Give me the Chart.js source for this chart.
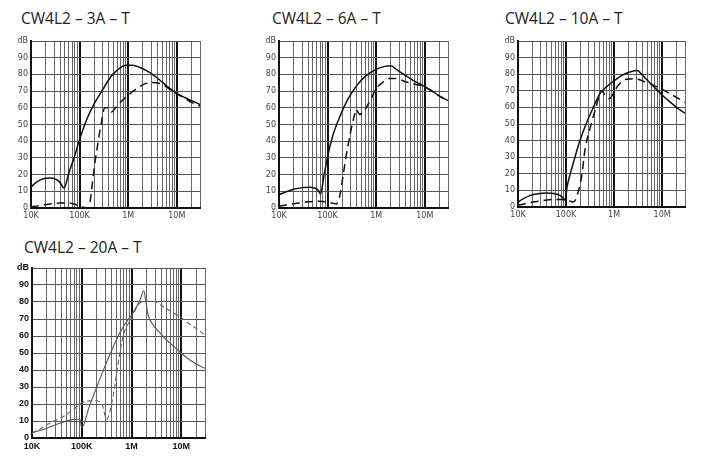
<!DOCTYPE html>
<html lang="en">
<head>
<meta charset="UTF-8">
<title>CW4L2 insertion loss</title>
<script src="https://cdn.jsdelivr.net/npm/chart.js@4/dist/chart.umd.min.js"></script>
<style>
    body { margin: 0; background: #fff; width: 726px; height: 463px; position: relative; overflow: hidden; }
    .title { position: absolute; font-family: "Open Sans"; font-size: 15.5px; line-height: 15.5px; color: #222; white-space: nowrap; }
    canvas { position: absolute; }
</style>
</head>
<body>
<div class="title" style="left:21px;top:11px">CW4L2 – 3A – T</div>
<div class="title" style="left:272px;top:11px">CW4L2 – 6A – T</div>
<div class="title" style="left:505px;top:11px">CW4L2 – 10A – T</div>
<div class="title" style="left:24px;top:240px">CW4L2 – 20A – T</div>
<canvas id="c3A"></canvas>
<canvas id="c6A"></canvas>
<canvas id="c10A"></canvas>
<canvas id="c20A"></canvas>
<script>
// [frequency Hz, dB]
const solid3A = [[1e4,12.5],[1.3e4,15.5],[1.8e4,17.5],[2.5e4,18],[3.2e4,17.3],[3.9e4,15.5],[4.8e4,12],[6e4,21],[7.5e4,29],[1e5,41],[1.4e5,53],[2e5,62.5],[2.8e5,69.5],[4.5e5,79],[6.5e5,83.5],[9e5,85.5],[1.2e6,85.5],[1.8e6,84],[2.8e6,81],[4.5e6,76.5],[6.5e6,72.5],[1e7,68.7],[1.5e7,66],[2e7,64.3],[3e7,62]];
const dashed3A = [[1e4,0.5],[1.5e4,1.5],[2.5e4,2.4],[4e4,3],[6e4,3],[8e4,2.2],[1e5,1],[1.3e5,0.2],[1.55e5,0],[1.75e5,10],[2e5,24],[2.3e5,36],[2.8e5,51],[3.3e5,60],[3.9e5,60],[4.5e5,57.5],[5.5e5,60],[7e5,63.5],[1e6,67.5],[1.5e6,71.5],[2.2e6,74.3],[3e6,75.2],[4.5e6,74.5],[6.5e6,72],[1e7,68.5],[1.5e7,65.5],[2e7,63.3],[3e7,61]];

const solid6A = [[1e4,8],[1.5e4,10],[2e4,11.2],[3e4,12.2],[4.3e4,12.4],[5.5e4,11.8],[6.5e4,10.5],[7.1e4,8.4],[8.5e4,20],[1e5,31],[1.3e5,44],[1.8e5,55],[2.6e5,65],[3.9e5,73],[6e5,79],[1e6,83],[1.5e6,84.8],[2e6,85.2],[2.6e6,83],[4.2e6,79],[6.5e6,75.5],[1e7,72.7],[1.5e7,69.5],[2e7,67],[3e7,64.3]];
const dashed6A = [[1e4,1],[1.5e4,2],[2.6e4,3],[4e4,3.7],[6.9e4,4],[1e5,3.5],[1.3e5,2.8],[1.5e5,2.4],[1.65e5,4],[1.8e5,8],[2.1e5,20],[2.4e5,31],[3e5,46],[3.6e5,56],[3.9e5,59],[4.5e5,56],[5.2e5,57],[6.2e5,60],[8e5,66],[1e6,71.5],[1.4e6,75.5],[1.9e6,77.5],[2.6e6,77.5],[4.1e6,75.5],[6.5e6,74],[1e7,72.5],[1.5e7,69.5],[2e7,67],[3e7,64.3]];

const solid10A = [[1e4,3],[1.3e4,5],[1.8e4,7],[2.6e4,8],[4e4,8.4],[5.5e4,8.2],[7.5e4,7],[9e4,5],[9.6e4,4],[1.05e5,12],[1.2e5,19],[1.5e5,29],[1.95e5,40],[2.7e5,51],[3.7e5,60],[5e5,68],[7e5,72.5],[1e6,76],[1.5e6,79.5],[2.2e6,81.5],[3.1e6,82.3],[3.6e6,80.5],[4.7e6,77],[7e6,72],[1e7,67.5],[1.5e7,63],[2e7,60],[3e7,56.5]];
const dashed10A = [[1e4,1],[1.4e4,2],[2.1e4,3],[3.5e4,4],[5.5e4,4.5],[8e4,4.5],[1.1e5,4],[1.4e5,3],[1.55e5,4],[1.7e5,7],[2.1e5,18],[2.5e5,35],[3.2e5,48],[4.2e5,60],[5.5e5,70],[6.5e5,67.5],[8e5,65.3],[9.5e5,68],[1.2e6,73],[1.8e6,77],[2.5e6,77.3],[3.5e6,76.5],[4.7e6,75],[7e6,73],[1e7,71],[1.5e7,68],[2e7,66],[3e7,63]];

const solid20A = [[1e4,3],[1.5e4,4.5],[2.3e4,6.5],[3.5e4,8.5],[5.8e4,10.5],[8e4,11],[9.2e4,11],[1e5,6],[1.4e5,18],[2e5,30],[3e5,43],[5e5,58],[7e5,66],[1.07e6,73.5],[1.47e6,81],[1.76e6,86.6],[1.95e6,80],[2.15e6,72.5],[2.7e6,66.6],[3.7e6,62],[5e6,57.8],[7e6,54],[9.3e6,50.6],[1.4e7,46.5],[2e7,43.5],[3e7,41]];
const dashed20A = [[1e4,3],[1.5e4,5.5],[2.2e4,8.5],[3.2e4,10.8],[4.3e4,12.7],[7e4,17],[1e5,20.6],[1.7e5,22],[2.5e5,20.6],[3.16e5,11],[4.27e5,24.5],[5.4e5,44],[6.8e5,60],[1e6,70.6],[1.47e6,79.4],[2e6,80.4],[2.7e6,80.4],[4.5e6,77],[7e6,73.5],[9.3e6,71.5],[1.4e7,67.5],[2e7,64.5],[3e7,60.5]];

const decadeLabels = { 10000: '10K', 100000: '100K', 1000000: '1M', 10000000: '10M' };
const dbTop = 'dB';
const fMin = 1e4, fMax = 3e7;

// vertical grid: 1..9 x each decade
const gridHz = [];
for (let e = 4; e <= 7; e++)
    for (let m = 1; m <= 9; m++)
        if (m * 10 ** e <= fMax) gridHz.push(m * 10 ** e);

function isDecade(v) {
    const l = Math.log10(v);
    return Math.abs(l - Math.round(l)) < 1e-6;
}

// plot area boxes (page pixels)
const boxes = {
    c3A:  { L: 31,  R: 200, T: 41,  B: 208 },
    c6A:  { L: 279, R: 448, T: 41,  B: 208 },
    c10A: { L: 518, R: 685, T: 41,  B: 207 },
    c20A: { L: 32,  R: 205, T: 268, B: 438 }
};

const thick = {
    font: { family: 'DejaVu Sans', size: 8 }, tickColor: '#444',
    line: '#111', width: 1.5, dash: [8, 5], dashColor: '#111'
};
const thin = {
    font: { family: 'Liberation Sans', size: 9, weight: 'bold' }, tickColor: '#111',
    line: '#555', width: 1.1, dash: [5, 3], dashColor: '#666'
};

function makeChart(id, solid, dashed, look) {
    const b = boxes[id];
    const yW = 31, xH = 18, padTop = 10, padRight = 8;
    const cv = document.getElementById(id);
    const left = b.L - yW, top = b.T - padTop;
    cv.style.left = left + 'px';
    cv.style.top = top + 'px';
    cv.width = b.R - left + padRight;
    cv.height = b.B - top + xH;

    new Chart(cv.getContext('2d'), {
        type: 'line',
        data: {
            datasets: [
                {
                    data: solid.map(p => ({ x: p[0], y: p[1] })),
                    borderColor: look.line, borderWidth: look.width,
                    pointRadius: 0, cubicInterpolationMode: 'monotone', fill: false
                },
                {
                    data: dashed.map(p => ({ x: p[0], y: p[1] })),
                    borderColor: look.dashColor, borderWidth: look.width, borderDash: look.dash,
                    pointRadius: 0, cubicInterpolationMode: 'monotone', fill: false
                }
            ]
        },
        options: {
            responsive: false,
            animation: false,
            layout: { padding: { top: padTop, right: padRight, left: 0, bottom: 0 } },
            plugins: { legend: { display: false }, tooltip: { enabled: false } },
            scales: {
                x: {
                    type: 'logarithmic', min: fMin, max: fMax,
                    afterBuildTicks: s => { s.ticks = gridHz.map(v => ({ value: v })); },
                    afterFit: s => { s.height = xH; },
                    ticks: {
                        autoSkip: false, maxRotation: 0, padding: 3,
                        font: look.font, color: look.tickColor,
                        callback: v => decadeLabels[v] || ''
                    },
                    grid: {
                        drawTicks: false,
                        color: c => isDecade(c.tick.value) ? '#111' : '#666',
                        lineWidth: c => isDecade(c.tick.value) ? 2 : 1
                    },
                    border: { color: '#111', width: 2 }
                },
                y: {
                    min: 0, max: 100,
                    afterFit: s => { s.width = yW; },
                    ticks: {
                        stepSize: 10, padding: 3,
                        font: look.font, color: look.tickColor,
                        callback: v => v === 100 ? dbTop : v
                    },
                    grid: { drawTicks: false, color: '#555', lineWidth: 1 },
                    border: { color: '#111', width: 2 }
                }
            }
        }
    });
}

makeChart('c3A', solid3A, dashed3A, thick);
makeChart('c6A', solid6A, dashed6A, thick);
makeChart('c10A', solid10A, dashed10A, thick);
makeChart('c20A', solid20A, dashed20A, thin);
</script>
</body>
</html>
